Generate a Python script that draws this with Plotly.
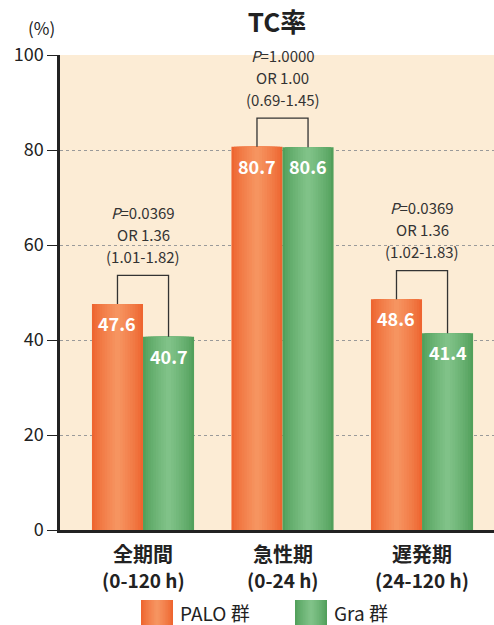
import plotly.graph_objects as go

categories = ["全期間", "急性期", "遅発期"]
periods = ["(0-120 h)", "(0-24 h)", "(24-120 h)"]
palo = [47.6, 80.7, 48.6]
gra = [40.7, 80.6, 41.4]
p_values = ["0.0369", "1.0000", "0.0369"]
odds = ["OR 1.36", "OR 1.00", "OR 1.36"]
ci = ["(1.01-1.82)", "(0.69-1.45)", "(1.02-1.83)"]
series_names = ["PALO 群", "Gra 群"]
y_ticks = [0, 20, 40, 60, 80, 100]

FONT = "Noto Sans CJK JP, Noto Sans, sans-serif"
xpos = list(range(len(categories)))
W = 0.366
N = 10

def mix(c1, c2, t):
    a = [int(c1[i:i + 2], 16) for i in (1, 3, 5)]
    b = [int(c2[i:i + 2], 16) for i in (1, 3, 5)]
    return "rgb(%d,%d,%d)" % tuple(round(a[j] + (b[j] - a[j]) * t) for j in range(3))

fig = go.Figure()
specs = [(palo, -W / 2, "#ee6530", "#f69460"), (gra, W / 2, "#52a05b", "#80c288")]
for vals, center, edge, mid in specs:
    for k in range(N):
        t = k / (N - 1)
        w = W * (1 - k / N)
        fig.add_trace(go.Bar(
            x=xpos, y=vals, width=w, offset=center - w / 2,
            marker=dict(color=mix(edge, mid, t ** 0.8), line=dict(width=0)),
            showlegend=False, hoverinfo="skip"))

ann = []
shapes = []
for i in xpos:
    xo, xg = i - W / 2, i + W / 2
    top = max(palo[i], gra[i]) + 6
    shapes.append(dict(type="path", xref="x", yref="y",
                       path=f"M {xo} {palo[i]} L {xo} {top} L {xg} {top} L {xg} {gra[i]}",
                       line=dict(color="#333333", width=1.3)))
    for txt, dy in [(f"<i>P</i>={p_values[i]}", 63), (odds[i], 41), (ci[i], 19)]:
        ann.append(dict(x=i, y=top, xref="x", yref="y", text=txt, showarrow=False,
                        yanchor="middle", yshift=dy, font=dict(size=15, color="#333333", family=FONT)))
    for xv, v in [(xo, palo[i]), (xg, gra[i])]:
        ann.append(dict(x=xv, y=v, xref="x", yref="y", text=f"<b>{v}</b>", showarrow=False,
                        yanchor="top", yshift=-4, font=dict(size=18, color="white", family=FONT)))
    # category labels (two lines)
    ann.append(dict(x=i, y=-23 / 475, xref="x", yref="paper", text=f"<b>{categories[i]}</b>",
                    showarrow=False, yanchor="middle", font=dict(size=20, color="#222222", family=FONT)))
    ann.append(dict(x=i, y=-49 / 475, xref="x", yref="paper", text=f"<b>{periods[i]}</b>",
                    showarrow=False, yanchor="middle", font=dict(size=19, color="#222222", family=FONT)))

ann.append(dict(x=-0.007, y=1.057, xref="paper", yref="paper", text="(%)", showarrow=False,
                xanchor="right", yanchor="middle", font=dict(size=17, color="#222222", family=FONT)))

# legend (manual, large swatches)
legend_items = [(141, series_names[0], "#ee6530", "#f69460"), (295, series_names[1], "#52a05b", "#80c288")]
for x0, name, edge, mid in legend_items:
    sw = 32
    for k in range(N):
        t = k / (N - 1)
        w = sw * (1 - k / N)
        cx = x0 + sw / 2
        shapes.append(dict(type="rect", xref="paper", yref="paper",
                           x0=(cx - w / 2 - 60) / 434, x1=(cx + w / 2 - 60) / 434,
                           y0=(530 - 625) / 475, y1=(530 - 600) / 475,
                           fillcolor=mix(edge, mid, t ** 0.8), line=dict(width=0)))
    ann.append(dict(x=(x0 + sw + 5 - 60) / 434, y=(530 - 612) / 475, xref="paper", yref="paper",
                    text=name, showarrow=False, xanchor="left", yanchor="middle",
                    font=dict(size=19, color="#222222", family=FONT)))

fig.update_layout(
    width=494, height=625,
    margin=dict(l=60, r=0, t=55, b=95),
    barmode="overlay",
    paper_bgcolor="white", plot_bgcolor="#fcecd5",
    title=dict(text="<b>TC率</b>", x=0.5, xref="paper", y=1 - 23 / 625, yanchor="middle",
               font=dict(size=26, color="#222222", family=FONT)),
    font=dict(family=FONT),
    showlegend=False,
    annotations=ann, shapes=shapes,
    xaxis=dict(range=[-0.595, 2.516], tickvals=xpos, showticklabels=False,
               showgrid=False, zeroline=False, showline=True, linecolor="#222222", linewidth=2.5,
               ticks="", fixedrange=True),
    yaxis=dict(range=[0, 100], tickvals=y_ticks, showgrid=True, gridcolor="#9a9a9a", griddash="dot",
               gridwidth=1, zeroline=False, showline=True, linecolor="#222222", linewidth=2.5,
               ticks="outside", ticklen=10, tickcolor="#222222", tickwidth=1.3,
               tickfont=dict(size=18, color="#222222", family=FONT)),
)

fig.write_html("out.html")
